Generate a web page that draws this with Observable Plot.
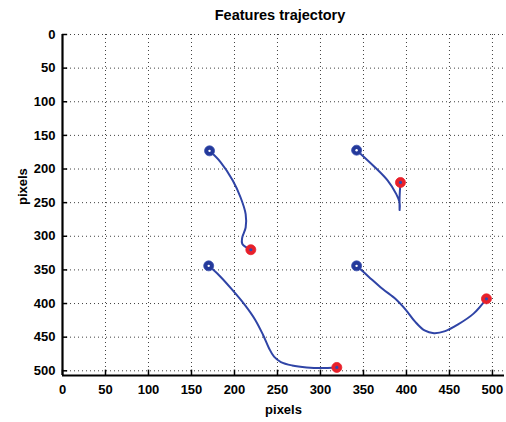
<!DOCTYPE html>
<html><head><meta charset="utf-8">
<script src="https://cdn.jsdelivr.net/npm/d3@7"></script>
<script src="https://cdn.jsdelivr.net/npm/@observablehq/plot@0.6"></script>
<style>
body{margin:0;background:#fff;font-family:"Liberation Sans",Arial,sans-serif;}
#title{box-sizing:border-box;width:506px;height:30px;line-height:30px;padding-left:54px;text-align:center;font-weight:bold;font-size:14.5px;color:#000;}
#chart svg{overflow:visible;display:block;}
</style></head>
<body>
<div id="title">Features trajectory</div>
<div id="chart"></div>
<script>
const xTicks = [0, 50, 100, 150, 200, 250, 300, 350, 400, 450, 500];
const yTicks = [0, 50, 100, 150, 200, 250, 300, 350, 400, 450, 500];

const traj1X = [171, 184, 198, 207, 213, 213, 209, 209, 219];
const traj1Y = [173, 190, 217, 242, 267, 287, 302, 311, 320];

const traj2X = [342, 363, 378, 388, 392, 392, 392, 393];
const traj2Y = [172, 197, 217, 237, 250, 261, 242, 220];

const traj3X = [170, 182, 197, 212, 224, 233, 240, 246, 254, 267, 284, 301, 319];
const traj3Y = [344, 358, 379, 402, 424, 446, 466, 479, 487, 492, 495, 496, 495];

const traj4X = [342, 356, 372, 388, 399, 410, 421, 432, 445, 460, 478, 493];
const traj4Y = [344, 360, 378, 394, 409, 427, 440, 444, 441, 431, 415, 393];

const trajectories = [[traj1X, traj1Y], [traj2X, traj2Y], [traj3X, traj3Y], [traj4X, traj4Y]];
const points = trajectories.flatMap(([xs, ys], k) => xs.map((x, i) => ({id: k, x, y: ys[i]})));
const starts = trajectories.map(([xs, ys]) => ({x: xs[0], y: ys[0]}));
const ends = trajectories.map(([xs, ys]) => ({x: xs[xs.length - 1], y: ys[ys.length - 1]}));

const blue = "#2f44a6";
const plot = Plot.plot({
  width: 506, height: 392,
  marginLeft: 62, marginRight: 2, marginTop: 4, marginBottom: 47,
  style: {fontFamily: "Liberation Sans, Arial, sans-serif", fontSize: "13px", fontWeight: "bold", color: "#000", background: "#fff"},
  x: {domain: [0, 514]},
  y: {domain: [0, 507], reverse: true},
  marks: [
    Plot.gridX(xTicks.slice(1), {stroke: "#000", strokeOpacity: 0.75, strokeDasharray: "1,3"}),
    Plot.gridY(yTicks, {stroke: "#000", strokeOpacity: 0.75, strokeDasharray: "1,3"}),
    Plot.axisX(xTicks, {tickSize: 0, tickPadding: 9, label: null}),
    Plot.axisY(yTicks, {tickSize: 0, tickPadding: 7, label: null}),
    Plot.ruleX(xTicks, {y1: 507, y2: 499, stroke: "#000", strokeWidth: 1.5}),
    Plot.ruleY(yTicks, {x1: 0, x2: 6, stroke: "#000", strokeWidth: 1.5}),
    Plot.ruleX([0], {stroke: "#000", strokeWidth: 2.2}),
    Plot.ruleY([507], {stroke: "#000", strokeWidth: 2.2}),
    Plot.line(points, {x: "x", y: "y", z: "id", stroke: blue, strokeWidth: 2, curve: "catmull-rom"}),
    Plot.dot(starts, {x: "x", y: "y", r: 5, fill: "#24399a", stroke: "#3a50b0", strokeWidth: 0.8}),
    Plot.dot(starts, {x: "x", y: "y", r: 1.2, fill: "#fff"}),
    Plot.dot(ends, {x: "x", y: "y", r: 5, fill: "#e8202a", stroke: "#e8202a", strokeWidth: 0.8}),
    Plot.dot(ends, {x: "x", y: "y", r: 1.6, fill: "#3048b0"}),
    Plot.text(["pixels"], {frameAnchor: "bottom", dy: 34, lineAnchor: "middle", fontSize: 13, fontWeight: "bold"}),
    Plot.text(["pixels"], {frameAnchor: "left", dx: -40, rotate: -90, lineAnchor: "middle", fontSize: 13, fontWeight: "bold"})
  ]
});
document.getElementById("chart").appendChild(plot);
</script>
</body></html>
